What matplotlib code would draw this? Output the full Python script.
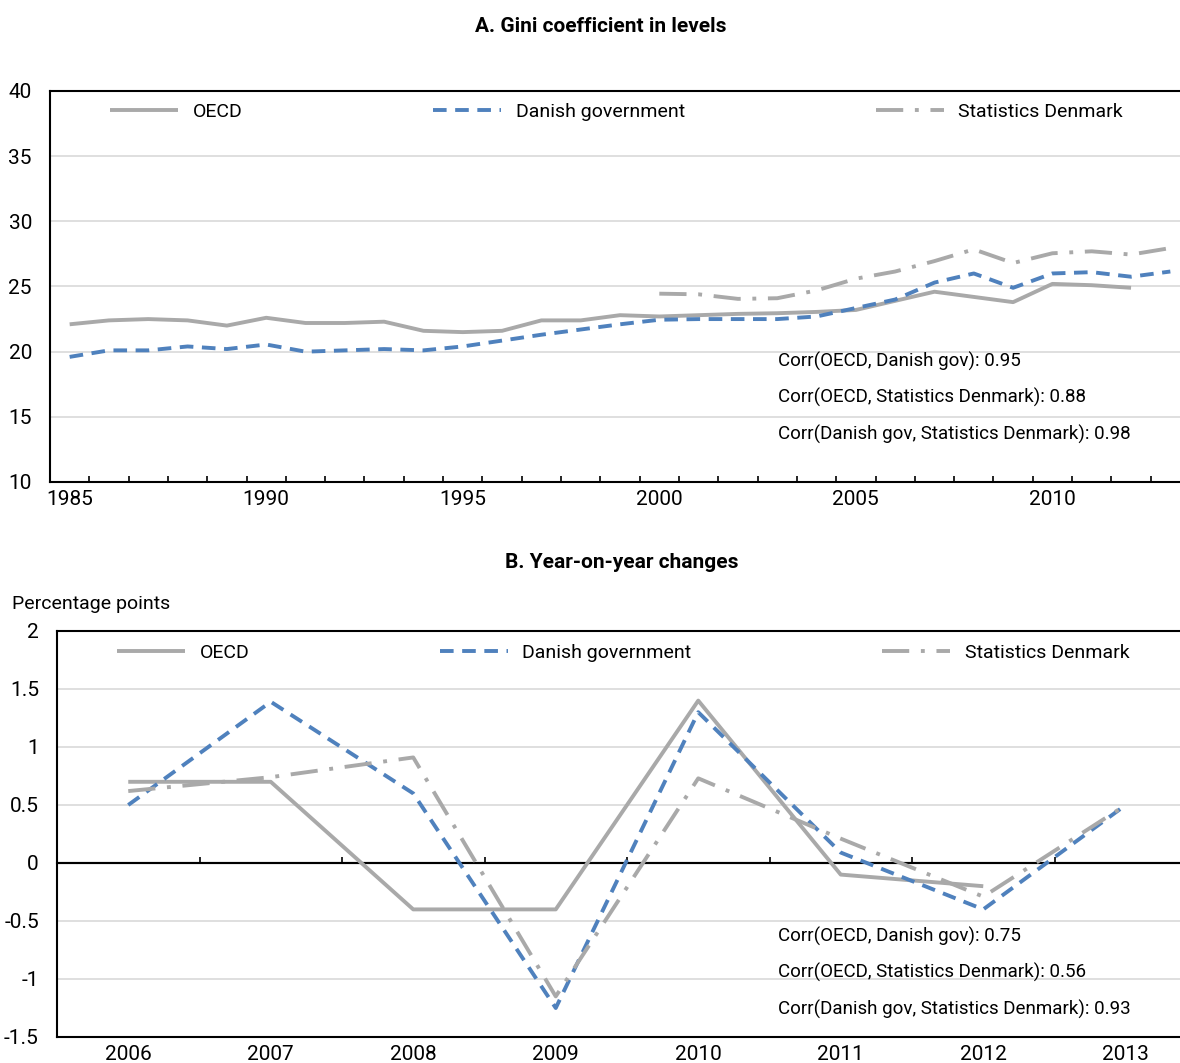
import matplotlib
matplotlib.use("Agg")
import matplotlib.pyplot as plt

plt.rcParams["font.family"] = ["Roboto", "DejaVu Sans"]

# Panel A: Gini coefficient in levels
years_a = list(range(1985, 2014))
oecd_a = [22.1, 22.4, 22.5, 22.4, 22.0, 22.6, 22.2, 22.2, 22.3, 21.6, 21.5, 21.6, 22.4, 22.4,
          22.8, 22.7, 22.8, 22.9, 22.95, 23.05, 23.2, 23.9, 24.6, 24.2, 23.8, 25.2, 25.1, 24.9]
danish_a = [19.6, 20.1, 20.1, 20.4, 20.2, 20.55, 20.0, 20.1, 20.2, 20.1, 20.4, 20.85, 21.3, 21.7,
            22.1, 22.45, 22.5, 22.5, 22.5, 22.7, 23.35, 24.0, 25.3, 26.0, 24.9, 26.0, 26.1, 25.75, 26.15]
statdk_years = list(range(2000, 2014))
statdk_a = [24.45, 24.4, 24.05, 24.1, 24.7, 25.6, 26.15, 26.95, 27.85, 26.8, 27.55, 27.7, 27.45, 27.95]

corr_a = ["Corr(OECD, Danish gov): 0.95",
          "Corr(OECD, Statistics Denmark): 0.88",
          "Corr(Danish gov, Statistics Denmark): 0.98"]

# Panel B: year-on-year changes
years_b = list(range(2006, 2014))
oecd_b = [0.7, 0.7, -0.4, -0.4, 1.4, -0.1, -0.2]
danish_b = [0.5, 1.39, 0.6, -1.25, 1.3, 0.09, -0.4, 0.5]
statdk_b = [0.62, 0.74, 0.91, -1.15, 0.73, 0.21, -0.29, 0.5]

corr_b = ["Corr(OECD, Danish gov): 0.75",
          "Corr(OECD, Statistics Denmark): 0.56",
          "Corr(Danish gov, Statistics Denmark): 0.93"]

GRAY = "#a9a9a9"
BLUE = "#4f81bd"
GRID = "#d9d9d9"
FS = 14
LW = 2.8

W, H = 1180, 1063
fig = plt.figure(figsize=(W / 100, H / 100), dpi=100)


def px_axes(left, top, right, bottom):
    return fig.add_axes([left / W, 1 - bottom / H, (right - left) / W, (bottom - top) / H])


def style_lines(ax, x_oecd, y_oecd, x_dan, y_dan, x_st, y_st):
    ax.plot(x_oecd, y_oecd, color=GRAY, lw=LW, label="OECD", solid_capstyle="butt", zorder=3)
    ax.plot(x_dan, y_dan, color=BLUE, lw=LW, dashes=(3.5, 2.2), label="Danish government",
            dash_capstyle="butt", zorder=3)
    ax.plot(x_st, y_st, color=GRAY, lw=LW, dashes=(7, 3, 1, 3), label="Statistics Denmark",
            dash_capstyle="butt", zorder=3)


def frame(ax):
    for side in ["left", "top", "bottom", "right"]:
        ax.spines[side].set_color("black")
        ax.spines[side].set_linewidth(1.5)
    ax.set_axisbelow(True)
    ax.yaxis.grid(True, color=GRID, lw=1.2)
    ax.tick_params(axis="y", length=0, pad=13, labelsize=FS + 1)


def legend(ax, cx):
    ax.legend(loc="center", bbox_to_anchor=(cx, 0.946), ncol=3, frameon=False, fontsize=FS,
              handlelength=3.5, handletextpad=0.75, columnspacing=9.8)


# ---- Panel A ----
ax1 = px_axes(50, 91, 1190, 482)
style_lines(ax1, years_a[:len(oecd_a)], oecd_a, years_a, danish_a, statdk_years, statdk_a)
frame(ax1)
ax1.set_xlim(1984.5, 2013.5)
ax1.set_ylim(10, 40)
ax1.set_yticks([10, 15, 20, 25, 30, 35, 40])
ax1.set_xticks(years_a[::5])
ax1.set_xticks([y + 0.5 for y in years_a[:-1]], minor=True)
ax1.tick_params(axis="x", which="major", length=0, pad=6, labelsize=FS + 1)
ax1.tick_params(axis="x", which="minor", direction="in", length=4.5, width=1.2)
legend(ax1, 0.497)
for i, line in enumerate(corr_a):
    fig.text(778 / W, 1 - (361 + 36.5 * i) / H, line, fontsize=FS - 0.5, ha="left", va="center")
fig.text(601 / W, 1 - 26 / H, "A. Gini coefficient in levels", fontsize=FS + 1, fontweight="bold",
         ha="center", va="center")

# ---- Panel B ----
ax2 = px_axes(57, 631, 1197, 1037)
style_lines(ax2, years_b[:len(oecd_b)], oecd_b, years_b, danish_b, years_b, statdk_b)
frame(ax2)
ax2.axhline(0, color="black", lw=1.5, zorder=2)
ax2.set_xlim(2005.5, 2013.5)
ax2.set_ylim(-1.5, 2)
ax2.set_yticks([-1.5, -1, -0.5, 0, 0.5, 1, 1.5, 2])
ax2.set_yticklabels(["-1.5", "-1", "-0.5", "0", "0.5", "1", "1.5", "2"])
ax2.set_xticks(years_b)
ax2.tick_params(axis="x", length=0, pad=6, labelsize=FS + 1)
zero_axis = ax2.secondary_xaxis(1.5 / 3.5)
zero_axis.spines["bottom"].set_linewidth(1.5)
zero_axis.set_xticks([y + 0.5 for y in years_b[:-1]])
zero_axis.tick_params(direction="in", length=4.5, width=1.2, labelbottom=False)
legend(ax2, 0.4965)
for i, line in enumerate(corr_b):
    fig.text(778 / W, 1 - (936 + 36.5 * i) / H, line, fontsize=FS - 0.5, ha="left", va="center")
fig.text(622 / W, 1 - 563 / H, "B. Year-on-year changes", fontsize=FS + 1, fontweight="bold",
         ha="center", va="center")
fig.text(12 / W, 1 - 604 / H, "Percentage points", fontsize=FS, ha="left", va="center")

fig.savefig("out.png", dpi=100)
